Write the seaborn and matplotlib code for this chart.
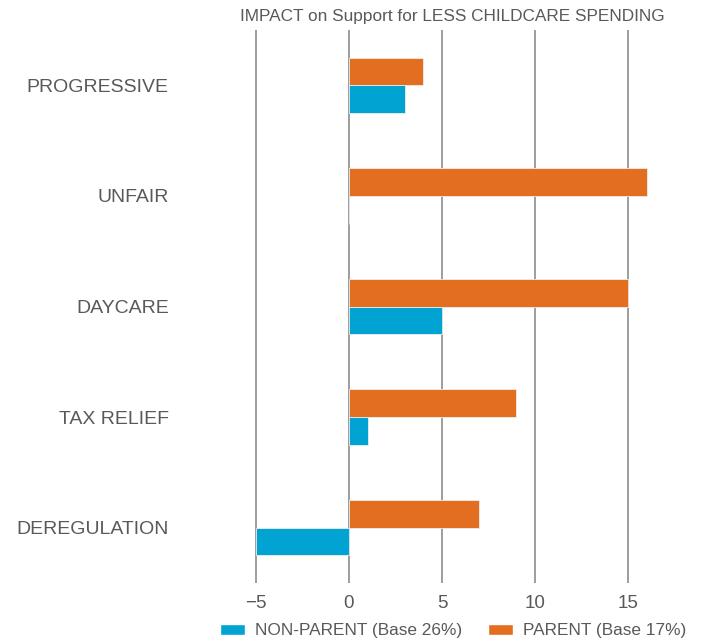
import matplotlib
matplotlib.use("Agg")
import matplotlib.pyplot as plt
import seaborn as sns
import pandas as pd
from matplotlib.patches import Patch

categories = ["PROGRESSIVE", "UNFAIR", "DAYCARE", "TAX RELIEF", "DEREGULATION"]
parent = [4, 16, 15, 9, 7]
non_parent = [3, 0, 5, 1, -5]
series_names = ["PARENT (Base 17%)", "NON-PARENT (Base 26%)"]
x_ticks = [-5, 0, 5, 10, 15]
x_tick_labels = ["\u22125", "0", "5", "10", "15"]
title = "IMPACT on Support for LESS CHILDCARE SPENDING"

ORANGE = "#E36E1F"
BLUE = "#00A3D2"
TEXT = "#595959"
GRID = "#8C8C8C"

df = pd.DataFrame({
    "category": categories * 2,
    "group": [series_names[0]] * len(categories) + [series_names[1]] * len(categories),
    "value": parent + non_parent,
})

sns.set_theme(style="white")
plt.rcParams["font.family"] = ["Liberation Sans", "DejaVu Sans"]

fig = plt.figure(figsize=(7.04, 6.42), dpi=100)
ax = fig.add_axes([202 / 704, 1 - 583 / 642, 500 / 704, 553 / 642])

palette = {series_names[0]: ORANGE, series_names[1]: BLUE}
sns.barplot(data=df, y="category", x="value", hue="group", order=categories,
            hue_order=series_names, palette=palette, orient="h", width=0.5,
            gap=0, dodge=True, saturation=1, edgecolor="#EEEEEE", linewidth=0.6,
            legend=False, ax=ax, zorder=3)

ax.set_xlim((202 - 349) / 18.6, (702 - 349) / 18.6)
ax.set_ylim(len(categories) - 0.5, -0.5)
ax.set_xticks(x_ticks)
ax.set_xticklabels(x_tick_labels)
for x in x_ticks:
    ax.axvline(x, color=GRID, linewidth=1.2, zorder=1)

for s in ax.spines.values():
    s.set_visible(False)
ax.tick_params(axis="both", length=0, labelcolor=TEXT)
ax.tick_params(axis="y", pad=24, labelsize=14)
ax.tick_params(axis="x", pad=9, labelsize=13.5)
ax.set_xlabel("")
ax.set_ylabel("")

fig.text(452 / 704, 1 - 17 / 642, title, ha="center", va="center",
         color=TEXT, fontsize=12.4)

handles = [Patch(facecolor=BLUE, label=series_names[1]),
           Patch(facecolor=ORANGE, label=series_names[0])]
fig.legend(handles=handles, loc="center", bbox_to_anchor=(453 / 704, 1 - 631 / 642),
           ncol=2, frameon=False, fontsize=12.4, labelcolor=TEXT,
           handlelength=1.45, handleheight=0.6, handletextpad=0.57, columnspacing=1.5)

fig.savefig("out.png", dpi=100)
